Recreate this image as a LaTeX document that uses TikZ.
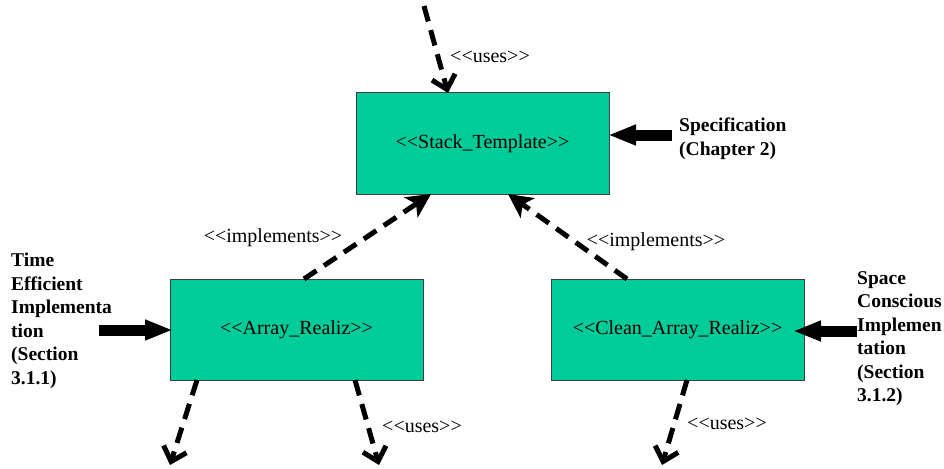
\documentclass[tikz,border=0pt]{standalone}
\usepackage{fontspec}
\setmainfont{Liberation Serif}
\usetikzlibrary{arrows.meta}
\definecolor{boxgreen}{RGB}{0,204,153}
\begin{document}
\begin{tikzpicture}[x=1pt,y=-1pt,
  cls/.style={draw=black!75, line width=1pt, fill=boxgreen, minimum width=253pt,
    minimum height=101pt, inner sep=0pt, font=\fontsize{20}{24}\selectfont},
  lbl/.style={inner sep=0pt, font=\fontsize{20}{24}\selectfont},
  note/.style={inner sep=0pt, align=left, anchor=north west,
    font=\fontsize{19.5}{23.5}\selectfont\bfseries},
  uses/.style={line width=5pt, dash pattern=on 16pt off 9pt,
    -{Straight Barb[length=13pt,width=24pt,line width=5pt]}},
  impl/.style={line width=5pt, dash pattern=on 15pt off 9pt,
    -{Stealth[length=24pt,width=24pt,inset=6pt]}},
  block/.style={line width=11pt, -{Triangle[length=28pt,width=19pt]}}]
\useasboundingbox (0,0) rectangle (944,468);

% classes
\node[cls] (st) at (482.5,143.5) {{<}{<}Stack\_Template{>}{>}};
\node[cls] (ar) at (296.5,329.5) {{<}{<}Array\_Realiz{>}{>}};
\node[cls] (ca) at (677.5,329.5) {{<}{<}Clean\_Array\_Realiz{>}{>}};

% notes
\node[note] (spec) at (679,118) {Specification\\(Chapter 2)};
\node[note] (time) at (11,253) {Time\\Efficient\\Implementa\\tion\\(Section\\3.1.1)};
\node[note] (space) at (857,271) {Space\\Conscious\\Implemen\\tation\\(Section\\3.1.2)};

% connector ends
\coordinate (topfree) at (424,6);
\coordinate (st-in) at (448,93);
\coordinate (ar-out) at (304,279);
\coordinate (st-l) at (431,194);
\coordinate (ca-out) at (627,279);
\coordinate (st-r) at (508,194);
\coordinate (ar-b1) at (197,380);
\coordinate (free1) at (170,465);
\coordinate (ar-b2) at (355,380);
\coordinate (free2) at (379,465);
\coordinate (ca-b) at (687,380);
\coordinate (free3) at (662,465);
\coordinate (spec-s) at (672,135);
\coordinate (st-e) at (608,135);
\coordinate (time-s) at (99,330);
\coordinate (ar-w) at (173,330);
\coordinate (space-s) at (857,331);
\coordinate (ca-e) at (793,331);

% dashed connectors
\draw[uses] (topfree) -- (st-in);
\draw[impl] (ar-out) -- (st-l);
\draw[impl] (ca-out) -- (st-r);
\draw[uses] (ar-b1) -- (free1);
\draw[uses] (ar-b2) -- (free2);
\draw[uses] (ca-b) -- (free3);

% block arrows
\draw[block] (spec-s) -- (st-e);
\draw[block] (time-s) -- (ar-w);
\draw[block] (space-s) -- (ca-e);

% connector labels
\node[lbl] (l-uses1) at (490,57) {{<}{<}uses{>}{>}};
\node[lbl] (l-impl1) at (273,238) {{<}{<}implements{>}{>}};
\node[lbl] (l-impl2) at (656,242) {{<}{<}implements{>}{>}};
\node[lbl] (l-uses2) at (422,427) {{<}{<}uses{>}{>}};
\node[lbl] (l-uses3) at (727,424) {{<}{<}uses{>}{>}};
\end{tikzpicture}
\end{document}
